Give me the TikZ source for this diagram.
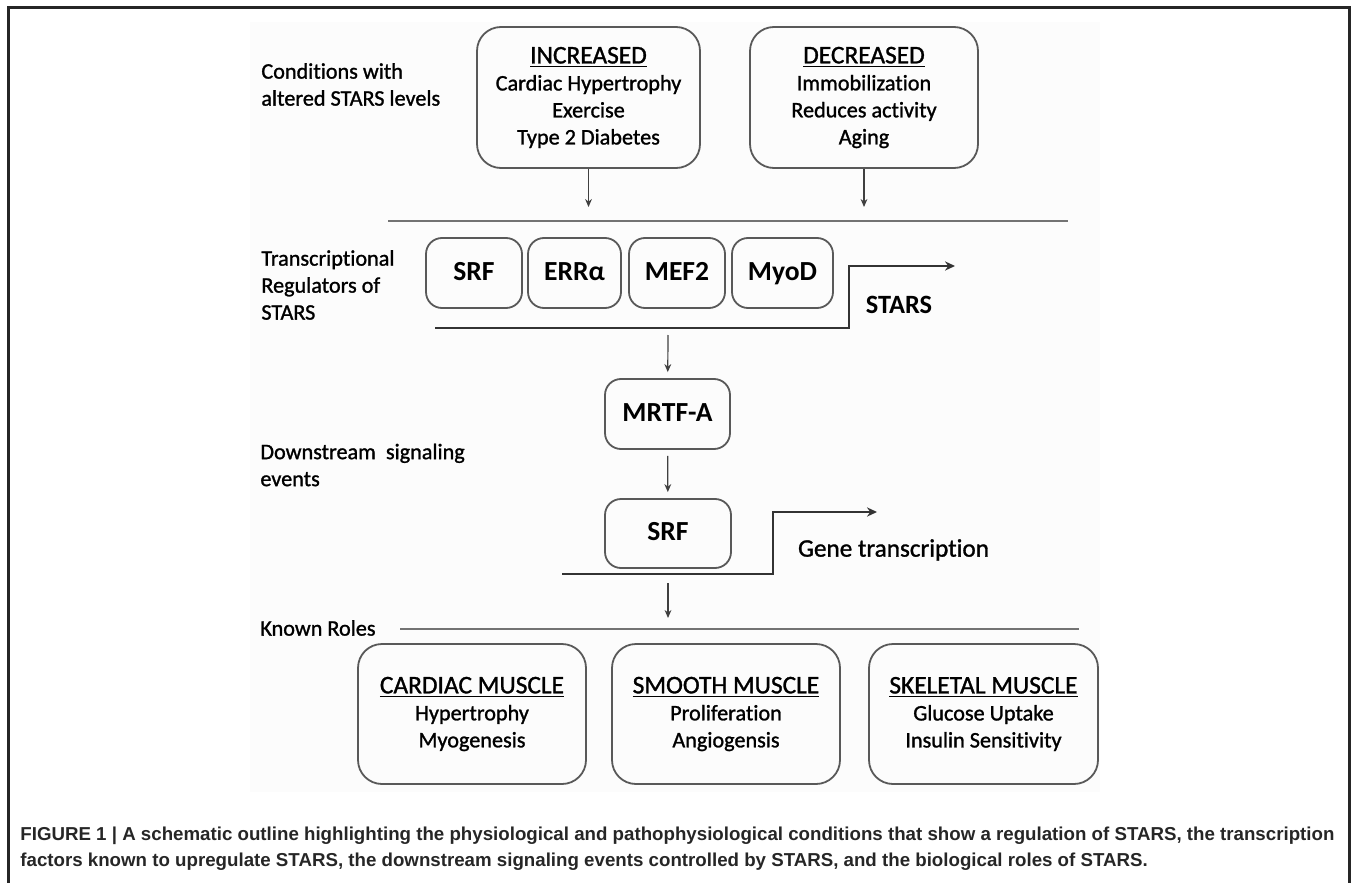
\documentclass[tikz,border=0pt]{standalone}
\usepackage{fontspec}
\setmainfont{Carlito}[Ligatures=NoCommon, UprightFeatures={RawFeature={embolden=1.2}}]
\newfontfamily\capfont{Liberation Sans}
\usepackage{tikz}
\usetikzlibrary{arrows.meta,positioning,calc}
\newcommand{\hd}[1]{\underline{#1}}
\tikzset{
  box/.style={draw=black!65, line width=0.9pt, rounded corners=12pt, align=center, inner sep=0pt,
    font=\fontsize{11.1}{13.5}\selectfont, minimum height=70.5pt},
  regbox/.style={draw=black!65, line width=0.9pt, rounded corners=8pt, align=center, inner sep=0pt,
    font=\bfseries\fontsize{13.8}{16}\selectfont, minimum height=35pt, text height=9.5pt, text depth=2.5pt},
  arr/.style={-{Stealth[length=4pt,width=3.4pt]}, line width=0.6pt, draw=black!75},
  dna/.style={-{Stealth[length=5pt,width=4.6pt]}, line width=1.4pt, draw=black!80},
  sep/.style={line width=0.9pt, draw=black!55},
  lbl/.style={anchor=west, align=left, inner sep=0pt, font=\fontsize{11.1}{13.5}\selectfont}}

\begin{document}
\begin{tikzpicture}[x=0.5pt,y=-0.5pt]
  \useasboundingbox (0,0) rectangle (1355,883);
  % frame and backdrop
  \fill[black!1] (250,22) rectangle (1100,792);
  \draw[line width=1.5pt, black!85] (8,895) -- (8,8) -- (1349,8) -- (1349,895);

  % row labels
  \node[lbl] (lcond) at (261,84.5) {Conditions with\\altered STARS levels};
  \node[lbl] (ltrans) at (261,285) {Transcriptional\\Regulators of\\STARS};
  \node[lbl] (ldown) at (260,465) {Downstream\ \ signaling\\events};
  \node[lbl] (lroles) at (260,628) {Known Roles};

  % conditions
  \node[box, minimum width=111.5pt] (inc) at (588.5,97.5)
    {{\fontsize{12.7}{13.5}\selectfont\hd{INCREASED}}\\Cardiac Hypertrophy\\Exercise\\Type 2 Diabetes};
  \node[box, minimum width=114pt] (dec) at (864,97.5)
    {{\fontsize{12.7}{13.5}\selectfont\hd{DECREASED}}\\Immobilization\\Reduces activity\\Aging};
  \coordinate (incend) at (588.5,207);
  \coordinate (decend) at (864,207);
  \draw[arr] (inc) -- (incend);
  \draw[arr] (dec) -- (decend);
  \coordinate (sepAL) at (388,221);
  \coordinate (sepAR) at (1068,221);
  \draw[sep] (sepAL) -- (sepAR);

  % regulators on the STARS promoter
  \node[regbox, minimum width=48pt] (srf) at (474,273) {SRF};
  \node[regbox, minimum width=46.5pt] (err) at (574.5,273) {ERRα};
  \node[regbox, minimum width=48pt] (mef) at (677,273) {MEF2};
  \node[regbox, minimum width=50.5pt] (myod) at (782.5,273) {MyoD};
  \coordinate (dnaA) at (435,328);
  \coordinate (tssA) at (849,266);
  \coordinate (dnaAend) at (955,266);
  \draw[dna] (dnaA) -| (tssA) -- (dnaAend);
  \node[inner sep=0pt, font=\bfseries\fontsize{13.2}{16}\selectfont] (stars) at (899,305) {STARS};

  % downstream
  \coordinate (mrtfin) at (668,335);
  \node[regbox, minimum width=62.5pt] (mrtf) at (667.5,414) {MRTF-A};
  \node[regbox, minimum width=63pt, minimum height=34.5pt] (srfb) at (668,533.5) {SRF};
  \draw[arr, shorten >=3pt] (mrtfin) -- (mrtf);
  \draw[arr, shorten <=3pt, shorten >=3pt] (mrtf) -- (srfb);
  \coordinate (dnaB) at (562,574);
  \coordinate (tssB) at (773,512);
  \coordinate (dnaBend) at (877,512);
  \draw[dna] (dnaB) -| (tssB) -- (dnaBend);
  \node[inner sep=0pt, font=\fontsize{12.6}{15}\selectfont] (gene) at (893.5,550) {Gene transcription};

  % known roles
  \coordinate (rolesin) at (668,583);
  \coordinate (rolesend) at (668,618);
  \draw[arr] (rolesin) -- (rolesend);
  \coordinate (sepBL) at (400,629);
  \coordinate (sepBR) at (1079,629);
  \draw[sep] (sepBL) -- (sepBR);
  \node[box, minimum width=114pt, minimum height=70pt] (card) at (472,714)
    {{\fontsize{12.7}{14}\selectfont\hd{CARDIAC MUSCLE}}\\Hypertrophy\\Myogenesis};
  \node[box, minimum width=114pt, minimum height=70pt] (smooth) at (726,714)
    {{\fontsize{12.7}{14}\selectfont\hd{SMOOTH MUSCLE}}\\Proliferation\\Angiogensis};
  \node[box, minimum width=114.5pt, minimum height=70pt] (skel) at (983.5,714)
    {{\fontsize{12.7}{14}\selectfont\hd{SKELETAL MUSCLE}}\\Glucose Uptake\\Insulin Sensitivity};

  % caption
  \node[anchor=west, align=left, inner sep=0pt, font=\capfont\bfseries\fontsize{9.35}{13}\selectfont, text=black!85] (cap) at (20,849)
    {FIGURE 1 | A schematic outline highlighting the physiological and pathophysiological conditions that show a regulation of STARS, the transcription\\
     factors known to upregulate STARS, the downstream signaling events controlled by STARS, and the biological roles of STARS.};
\end{tikzpicture}
\end{document}
